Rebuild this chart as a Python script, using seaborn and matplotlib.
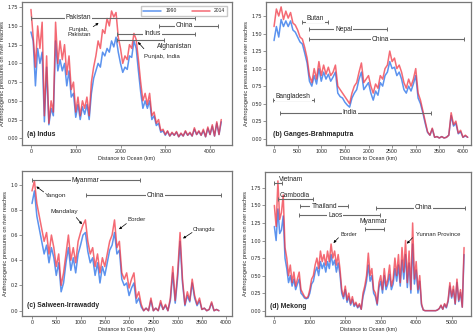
import matplotlib
matplotlib.use("Agg")
import matplotlib.pyplot as plt
import seaborn as sns
import pandas as pd

sns.set_theme(style="white")
plt.rcParams['font.family'] = ['Liberation Sans', 'DejaVu Sans']

# ---------------- data ----------------
indus_km = list(range(0, 4251, 50))
indus_2014 = [1.72, 1.35, 0.95, 1.50, 1.20, 1.55, 0.30, 1.10, 0.20, 0.50, 0.35, 1.55, 1.00, 1.30, 1.05, 1.25,
              0.85, 1.10, 0.65, 0.75, 0.35, 0.55, 0.30, 0.50, 0.40, 0.55, 0.30, 0.75, 0.95, 1.10, 1.30, 1.20,
              1.45, 1.40, 1.60, 1.50, 1.70, 1.62, 1.68, 1.35, 1.20, 1.00, 1.10, 1.05, 1.25, 1.20, 1.40, 1.32,
              1.05, 0.75, 0.50, 0.60, 0.45, 0.60, 0.30, 0.35, 0.20, 0.25, 0.10, 0.12, 0.05, 0.10, 0.03, 0.08,
              0.04, 0.09, 0.02, 0.07, 0.03, 0.10, 0.04, 0.08, 0.03, 0.14, 0.05, 0.10, 0.04, 0.12, 0.02, 0.15,
              0.05, 0.18, 0.03, 0.22, 0.05, 0.25]
indus_1990 = [1.42, 1.30, 0.70, 1.20, 1.00, 1.15, 0.22, 0.95, 0.18, 0.40, 0.30, 1.30, 0.90, 1.05, 0.90, 1.00,
              0.70, 0.90, 0.55, 0.60, 0.28, 0.45, 0.25, 0.42, 0.32, 0.45, 0.25, 0.60, 0.80, 0.90, 1.00, 0.95,
              1.15, 1.10, 1.20, 1.15, 1.30, 1.22, 1.35, 1.15, 1.00, 0.88, 0.95, 0.92, 1.10, 1.08, 1.30, 1.20,
              0.90, 0.62, 0.40, 0.50, 0.40, 0.50, 0.25, 0.30, 0.17, 0.20, 0.08, 0.10, 0.04, 0.09, 0.03, 0.07,
              0.04, 0.08, 0.02, 0.06, 0.03, 0.09, 0.04, 0.07, 0.03, 0.12, 0.05, 0.09, 0.04, 0.10, 0.02, 0.13,
              0.05, 0.16, 0.03, 0.20, 0.05, 0.22]

ganges_km = list(range(0, 4101, 50))
ganges_2014 = [1.60, 1.85, 1.75, 1.88, 1.70, 1.82, 1.72, 1.80, 1.65, 1.62, 1.55, 1.45, 1.42, 1.30, 1.15, 0.90,
               0.80, 1.00, 0.85, 1.10, 0.90, 1.05, 0.92, 1.02, 0.90, 0.95, 1.05, 0.75, 0.70, 0.65, 0.60, 0.55,
               0.50, 0.65, 0.75, 0.80, 0.95, 1.08, 0.80, 0.85, 0.90, 0.75, 0.65, 0.78, 0.72, 0.90, 0.85, 1.00,
               1.05, 1.25, 1.10, 1.15, 1.00, 1.05, 0.95, 0.80, 0.72, 0.85, 0.75, 0.85, 1.00, 0.65, 0.55, 0.40,
               0.25, 0.10, 0.05, 0.15, 0.02, 0.03, 0.01, 0.03, 0.01, 0.02, 0.05, 0.37, 0.20, 0.25, 0.08, 0.12,
               0.02, 0.05, 0.02]
ganges_1990 = [1.40, 1.60, 1.45, 1.70, 1.60, 1.68, 1.60, 1.68, 1.55, 1.52, 1.45, 1.38, 1.35, 1.22, 1.08, 0.82,
               0.75, 0.90, 0.78, 1.00, 0.82, 0.95, 0.85, 0.92, 0.82, 0.88, 0.95, 0.65, 0.60, 0.58, 0.52, 0.48,
               0.45, 0.58, 0.65, 0.70, 0.85, 0.95, 0.70, 0.75, 0.80, 0.65, 0.55, 0.68, 0.62, 0.80, 0.75, 0.90,
               0.95, 1.10, 1.00, 1.02, 0.90, 0.95, 0.85, 0.70, 0.65, 0.75, 0.68, 0.78, 0.90, 0.58, 0.50, 0.37,
               0.22, 0.09, 0.05, 0.14, 0.02, 0.03, 0.01, 0.03, 0.01, 0.02, 0.05, 0.33, 0.18, 0.22, 0.07, 0.10,
               0.02, 0.04, 0.02]

salween_km = list(range(0, 3851, 50))
salween_2014 = [0.95, 1.03, 0.85, 0.75, 0.65, 0.55, 0.62, 0.45, 0.60, 0.50, 0.35, 0.45, 0.20, 0.30, 0.45, 0.60,
                0.40, 0.50, 0.38, 0.55, 0.62, 0.68, 0.72, 0.55, 0.45, 0.50, 0.35, 0.45, 0.30, 0.42, 0.35, 0.45,
                0.55, 0.60, 0.72, 0.50, 0.55, 0.30, 0.25, 0.30, 0.18, 0.25, 0.30, 0.10, 0.15, 0.05, 0.00, 0.02,
                0.00, 0.10, 0.00, 0.02, 0.00, 0.08, 0.01, 0.05, 0.00, 0.10, 0.35, 0.08, 0.30, 0.62, 0.25, 0.05,
                0.15, 0.08, 0.25, 0.12, 0.05, 0.10, 0.01, 0.02, 0.00, 0.01, 0.07, 0.00, 0.01, 0.00]
salween_1990 = [0.85, 0.95, 0.75, 0.65, 0.55, 0.45, 0.52, 0.38, 0.50, 0.42, 0.28, 0.38, 0.15, 0.22, 0.38, 0.50,
                0.32, 0.42, 0.30, 0.45, 0.52, 0.60, 0.62, 0.47, 0.38, 0.42, 0.28, 0.38, 0.22, 0.35, 0.28, 0.38,
                0.48, 0.52, 0.62, 0.45, 0.48, 0.25, 0.20, 0.22, 0.12, 0.18, 0.22, 0.06, 0.10, 0.03, 0.00, 0.02,
                0.00, 0.08, 0.00, 0.02, 0.00, 0.06, 0.01, 0.04, 0.00, 0.08, 0.30, 0.06, 0.26, 0.55, 0.22, 0.04,
                0.12, 0.07, 0.22, 0.10, 0.04, 0.08, 0.01, 0.02, 0.00, 0.01, 0.06, 0.00, 0.01, 0.00]

mekong_km = list(range(0, 5351, 50))
mekong_2014 = [1.50, 1.20, 1.85, 1.30, 1.40, 1.65, 0.90, 0.75, 0.50, 0.65, 0.40, 0.55, 0.35, 0.45, 0.55, 0.30,
               0.25, 0.20, 0.18, 0.20, 0.30, 0.45, 0.50, 0.65, 0.75, 0.60, 0.85, 0.70, 0.80, 0.65, 0.85, 0.70,
               0.95, 0.75, 0.85, 0.65, 0.80, 0.60, 0.30, 0.20, 0.35, 0.15, 0.25, 0.10, 0.20, 0.08, 0.12, 0.05,
               0.10, 0.02, 0.25, 0.35, 0.50, 0.82, 0.50, 0.60, 0.30, 0.25, 0.10, 0.40, 0.50, 0.30, 0.60, 0.35,
               0.45, 0.65, 0.35, 0.45, 0.75, 0.50, 0.80, 0.40, 0.90, 0.55, 1.00, 0.40, 0.85, 0.30, 1.25, 0.45,
               0.70, 0.30, 0.50, 0.10, 0.01, 0.00, 0.00, 0.00, 0.00, 0.00, 0.00, 0.00, 0.01, 0.03, 0.08, 0.02,
               0.10, 0.05, 0.15, 0.40, 0.20, 0.35, 0.10, 0.45, 0.15, 0.30, 0.05, 0.90]
mekong_1990 = [1.20, 1.00, 1.45, 1.10, 1.15, 1.35, 0.75, 0.60, 0.40, 0.50, 0.35, 0.45, 0.30, 0.38, 0.45, 0.25,
               0.22, 0.18, 0.17, 0.18, 0.25, 0.38, 0.42, 0.55, 0.62, 0.50, 0.70, 0.60, 0.68, 0.55, 0.70, 0.60,
               0.80, 0.65, 0.72, 0.55, 0.68, 0.52, 0.25, 0.17, 0.30, 0.12, 0.20, 0.08, 0.16, 0.06, 0.10, 0.04,
               0.08, 0.02, 0.20, 0.30, 0.42, 0.65, 0.42, 0.50, 0.25, 0.20, 0.08, 0.33, 0.42, 0.25, 0.50, 0.30,
               0.38, 0.52, 0.30, 0.38, 0.60, 0.42, 0.65, 0.35, 0.72, 0.45, 0.80, 0.33, 0.68, 0.25, 0.95, 0.38,
               0.58, 0.25, 0.42, 0.08, 0.01, 0.00, 0.00, 0.00, 0.00, 0.00, 0.00, 0.00, 0.01, 0.03, 0.07, 0.02,
               0.09, 0.04, 0.13, 0.35, 0.18, 0.30, 0.09, 0.40, 0.13, 0.26, 0.05, 0.80]

years = ["1990", "2014"]
panel_titles = ["(a) Indus", "(b) Ganges-Brahmaputra", "(c) Salween-Irrawaddy", "(d) Mekong"]

# ---------------- style ----------------
BLUE = "#3f80ec"
RED = "#f0303e"
GRAY = "#6a6a6a"
W, H = 475, 334


def frac(l, r, t, b):
    return [l / W, 1 - b / H, (r - l) / W, (b - t) / H]


fig = plt.figure(figsize=(4.75, 3.34), dpi=100)
fig.patch.set_facecolor("white")

specs = [
    dict(km=indus_km, v90=indus_1990, v14=indus_2014, pos=frac(22, 232, 2, 145),
         xlim=(-200, 4490), ylim=(-0.09, 1.82), xt=[0, 1000, 2000, 3000, 4000],
         yt=[0, 0.25, 0.5, 0.75, 1.0, 1.25, 1.5, 1.75], fmt="{:.2f}", lab=(0.022, 0.072)),
    dict(km=ganges_km, v90=ganges_1990, v14=ganges_2014, pos=frac(266, 471, 2, 145),
         xlim=(-170, 4170), ylim=(-0.09, 1.95), xt=list(range(0, 4001, 500)),
         yt=[0, 0.25, 0.5, 0.75, 1.0, 1.25, 1.5, 1.75], fmt="{:.2f}", lab=(0.034, 0.072)),
    dict(km=salween_km, v90=salween_1990, v14=salween_2014, pos=frac(22, 232, 171, 316),
         xlim=(-206, 4120), ylim=(-0.042, 1.108), xt=list(range(0, 4001, 500)),
         yt=[0, 0.2, 0.4, 0.6, 0.8, 1.0], fmt="{:.1f}", lab=(0.022, 0.072)),
    dict(km=mekong_km, v90=mekong_1990, v14=mekong_2014, pos=frac(265, 471, 172, 316),
         xlim=(-264, 5546), ylim=(-0.076, 1.977), xt=[0, 1000, 2000, 3000, 4000, 5000],
         yt=[0, 0.25, 0.5, 0.75, 1.0, 1.25, 1.5, 1.75], fmt="{:.2f}", lab=(0.025, 0.068)),
]

axes = []
for i, s in enumerate(specs):
    ax = fig.add_axes(s["pos"])
    df = pd.DataFrame({"km": s["km"] * 2,
                       "value": s["v90"] + s["v14"],
                       "year": [years[0]] * len(s["km"]) + [years[1]] * len(s["km"])})
    sns.lineplot(data=df[df.year == "1990"], x="km", y="value", color=BLUE, lw=1.1,
                 alpha=0.85, ax=ax, label="1990")
    sns.lineplot(data=df[df.year == "2014"], x="km", y="value", color=RED, lw=1.1,
                 alpha=0.72, ax=ax, label="2014")
    ax.set_xlim(*s["xlim"])
    ax.set_ylim(*s["ylim"])
    ax.set_xticks(s["xt"])
    ax.set_xticklabels([str(t) for t in s["xt"]])
    ax.set_yticks(s["yt"])
    ax.set_yticklabels([s["fmt"].format(t) for t in s["yt"]])
    ax.tick_params(axis="both", labelsize=3.8, length=2, width=0.5, color=GRAY, pad=1,
                   direction="out", bottom=True, left=True)
    for sp in ax.spines.values():
        sp.set_color("#777777")
        sp.set_linewidth(0.9)
    ax.set_xlabel("Distance to Ocean (km)", fontsize=3.9, labelpad=1.2)
    ax.set_ylabel("Anthropogenic pressures on river reaches", fontsize=4.1, labelpad=1.5)
    ax.text(s["lab"][0], s["lab"][1], panel_titles[i], transform=ax.transAxes,
            fontsize=4.9, fontweight="bold", va="center", ha="left")
    if i == 0:
        ax.legend(loc="upper right", ncol=2, fontsize=3.6, frameon=True, handlelength=3.6,
                  columnspacing=3.0, borderpad=0.5, bbox_to_anchor=(0.99, 0.99),
                  edgecolor="#bbbbbb", fancybox=False)
    else:
        ax.get_legend().remove()
    axes.append(ax)


def span(ax, x0, x1, y, label=None, tx=None, ty=None, fs=4.8, bbox=True, ha="center"):
    ax.plot([x0, x1], [y, y], color=GRAY, lw=0.8, marker="|", markersize=3.2,
            markeredgewidth=0.7, zorder=5)
    if label:
        kw = dict(boxstyle="square,pad=0.15", fc="white", ec="none") if bbox else None
        ax.text(tx if tx is not None else (x0 + x1) / 2, ty if ty is not None else y, label,
                fontsize=fs, ha=ha, va="center", bbox=kw, zorder=6)


def arrow(ax, text, tx, ty, x0, y0, x1, y1, fs=4.4, ha="center"):
    ax.text(tx, ty, text, fontsize=fs, ha=ha, va="center", zorder=6, linespacing=1.0)
    ax.annotate("", xy=(x1, y1), xytext=(x0, y0),
                arrowprops=dict(arrowstyle="-|>", lw=0.5, color="black", mutation_scale=3.5,
                                shrinkA=0, shrinkB=0), zorder=6)


# (a) Indus
a = axes[0]
span(a, 0, 3654, 1.608, "Pakistan", tx=1060)
span(a, 2870, 4184, 1.506, "China", tx=3434)
span(a, 1926, 3654, 1.395, "Indus", tx=2713)
span(a, 1926, 2978, 1.307)
a.text(3213, 1.23, "Afghanistan", fontsize=4.8, ha="center", va="center")
arrow(a, "Punjab,\nPakistan", 1080, 1.413, 1390, 1.49, 1510, 1.54)
arrow(a, "Punjab, India", 2919, 1.094, 2522, 1.196, 2390, 1.285)

# (b) Ganges-Brahmaputra
b = axes[1]
span(b, 584, 1146, 1.66, "Butan", tx=872, ty=1.71)
span(b, 745, 2391, 1.56, "Nepal", tx=1477)
span(b, 745, 4016, 1.42, "China", tx=2250)
span(b, -14, 844, 0.55, "Bangladesh", tx=408, ty=0.60)
span(b, 127, 3326, 0.37, "India", tx=1603)

# (c) Salween-Irrawaddy
c = axes[2]
span(c, 0, 2218, 1.034, "Myanmar", tx=1100)
span(c, 1120, 3894, 0.916, "China", tx=2540)
arrow(c, "Yangon", 480, 0.916, 240, 0.942, 89, 0.985, fs=4.6)
arrow(c, "Mandalay", 666, 0.784, 913, 0.739, 1030, 0.686, fs=4.6)
arrow(c, "Border", 2150, 0.726, 1944, 0.691, 1793, 0.646, fs=4.4)
arrow(c, "Changdu", 3537, 0.644, 3297, 0.62, 3111, 0.573, fs=4.0)

# (d) Mekong
d = axes[3]
span(d, 0, 226, 1.816)
d.text(141, 1.865, "Vietnam", fontsize=4.8, ha="left", va="center", zorder=6)
span(d, 113, 1100, 1.585)
d.text(160, 1.64, "Cambodia", fontsize=4.8, ha="left", va="center", zorder=6)
span(d, 725, 2070, 1.49, "Thailand", tx=1403)
span(d, 706, 2985, 1.357, "Laos", tx=1714)
span(d, 2853, 5367, 1.466, "China", tx=4209)
span(d, 2552, 3079, 1.168)
d.text(2797, 1.27, "Myanmar", fontsize=4.8, ha="center", va="center", zorder=6)
arrow(d, "Border", 1855, 1.083, 1808, 1.04, 1667, 0.965, fs=4.0, ha="left")
arrow(d, "Yunnan Province", 4002, 1.083, 3898, 1.04, 3738, 0.955, fs=4.2, ha="left")

fig.savefig("out.png", dpi=100, facecolor="white")
